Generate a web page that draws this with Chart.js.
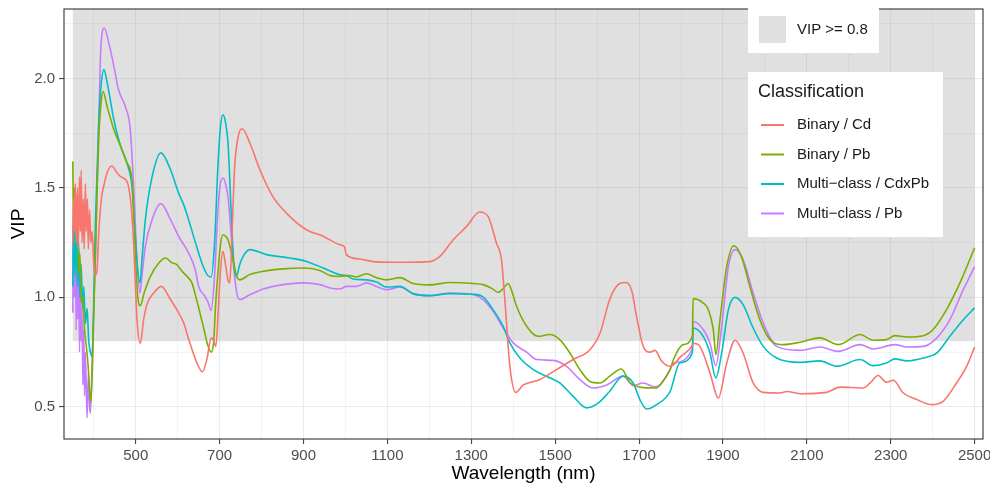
<!DOCTYPE html>
<html>
<head>
<meta charset="utf-8">
<script src="https://cdn.jsdelivr.net/npm/chart.js@4.4.1/dist/chart.umd.min.js"></script>
<style>
  html, body { margin: 0; padding: 0; background: #fff; }
  #wrap { width: 990px; height: 485px; position: relative; }
</style>
</head>
<body>
<div id="wrap"><canvas id="chart"></canvas></div>
<script>
// Binary / Cd
const cdWl = [350,352,354,356,358,361,363,366,368,370,372,375,377,380,382,385,387,390,393,396,400,404,408,412,418,424,432,443,455,465,479,488,495,503,511,519,527,543,561,583,602,615,626,646,659,670,680,686,691,697,702,708,714,720,724,728,732,736,745,754,772,796,827,867,907,947,987,998,1002,1034,1066,1106,1150,1201,1225,1257,1289,1320,1340,1360,1372,1380,1392,1406,1424,1463,1503,1543,1583,1607,1630,1650,1666,1682,1694,1710,1726,1738,1754,1774,1800,1827,1829,1845,1869,1889,1909,1929,1948,1972,1996,2036,2052,2084,2147,2179,2235,2251,2270,2290,2306,2330,2362,2398,2425,2457,2481,2500];
const cdVip = [1.24,1.45,1.30,1.52,1.25,1.50,1.22,1.55,1.30,1.58,1.25,1.45,1.22,1.52,1.30,1.45,1.22,1.40,1.25,1.30,1.15,1.10,1.13,1.30,1.45,1.51,1.57,1.60,1.57,1.55,1.53,1.44,1.25,0.90,0.79,0.90,0.97,1.02,1.05,0.99,0.93,0.88,0.81,0.70,0.66,0.72,0.815,0.80,0.776,0.95,1.12,1.21,1.15,1.08,1.066,1.20,1.42,1.60,1.74,1.77,1.705,1.583,1.46,1.37,1.309,1.279,1.24,1.23,1.195,1.175,1.163,1.16,1.16,1.163,1.187,1.263,1.324,1.39,1.37,1.248,1.172,0.99,0.685,0.566,0.60,0.624,0.67,0.716,0.761,0.837,0.99,1.058,1.068,1.035,0.913,0.776,0.75,0.758,0.708,0.685,0.73,0.78,0.79,0.776,0.655,0.54,0.70,0.804,0.746,0.609,0.566,0.563,0.57,0.56,0.566,0.59,0.586,0.609,0.643,0.612,0.621,0.563,0.533,0.51,0.525,0.609,0.685,0.773];

// Binary / Pb
const pbWl = [350,352,354,357,360,364,367,370,374,378,382,386,390,393,397,401,404,408,412,418,422,432,448,464,479,491,499,505,511,520,535,555,571,585,598,610,622,634,645,661,672,680,686,690,696,702,708,714,720,732,740,748,772,804,851,899,939,963,987,1010,1026,1050,1074,1098,1130,1161,1201,1249,1304,1328,1350,1364,1376,1388,1398,1408,1432,1459,1487,1511,1535,1559,1583,1607,1630,1658,1678,1702,1742,1750,1774,1782,1805,1827,1829,1853,1865,1877,1883,1893,1909,1926,1944,1964,1988,2012,2044,2084,2131,2175,2227,2258,2290,2310,2338,2378,2401,2433,2465,2500];
const pbVip = [1.62,1.30,1.50,1.35,1.45,1.11,1.20,0.98,1.00,0.85,0.78,0.70,0.58,0.52,0.70,1.00,1.20,1.50,1.735,1.90,1.94,1.87,1.766,1.69,1.614,1.537,1.20,1.00,0.962,1.02,1.096,1.157,1.18,1.16,1.149,1.12,1.096,1.066,0.99,0.868,0.78,0.75,0.80,0.95,1.11,1.24,1.286,1.28,1.263,1.172,1.10,1.08,1.104,1.119,1.13,1.134,1.123,1.10,1.096,1.10,1.093,1.108,1.09,1.08,1.09,1.063,1.057,1.068,1.063,1.058,1.04,1.023,1.04,1.063,1.02,0.959,0.868,0.822,0.83,0.807,0.746,0.67,0.616,0.609,0.64,0.673,0.612,0.59,0.586,0.60,0.67,0.716,0.784,0.822,0.994,0.974,0.944,0.853,0.738,0.898,1.14,1.236,1.187,1.05,0.898,0.807,0.784,0.795,0.815,0.784,0.83,0.804,0.807,0.825,0.819,0.825,0.853,0.944,1.066,1.226];

// Multi-class / CdxPb
const cdpbWl = [350,352,355,358,361,364,367,370,373,376,380,384,388,392,396,400,404,412,418,424,432,448,464,479,491,499,505,510,516,523,539,560,583,602,615,626,645,661,672,680,688,696,702,708,714,720,728,734,740,748,756,772,812,867,907,947,987,1002,1018,1050,1074,1098,1130,1161,1201,1249,1304,1328,1352,1376,1392,1416,1448,1479,1511,1543,1575,1603,1630,1662,1686,1702,1718,1742,1774,1797,1827,1829,1853,1869,1883,1897,1913,1929,1948,1972,1996,2028,2084,2131,2171,2227,2258,2290,2310,2338,2378,2410,2441,2473,2500];
const cdpbVip = [1.05,1.40,1.10,1.35,1.05,1.25,1.00,1.15,0.95,1.05,0.88,0.95,0.80,0.75,0.73,1.00,1.355,1.81,1.98,2.04,1.98,1.81,1.69,1.614,1.507,1.28,1.12,1.066,1.20,1.355,1.55,1.66,1.583,1.477,1.42,1.355,1.233,1.14,1.10,1.093,1.25,1.60,1.78,1.834,1.80,1.705,1.37,1.15,1.096,1.15,1.187,1.218,1.195,1.18,1.164,1.134,1.103,1.10,1.084,1.08,1.07,1.047,1.05,1.017,1.008,1.017,1.014,1.002,0.944,0.868,0.792,0.723,0.67,0.64,0.609,0.548,0.495,0.518,0.571,0.64,0.609,0.533,0.49,0.51,0.57,0.70,0.746,0.86,0.822,0.746,0.632,0.746,0.944,1.0,0.967,0.86,0.776,0.723,0.703,0.71,0.685,0.716,0.688,0.70,0.719,0.71,0.723,0.746,0.822,0.898,0.952];

// Multi-class / Pb
const mpbWl = [350,352,354,356,358,360,362,364,366,368,370,372,374,376,378,380,384,387,390,392,396,400,404,412,417,425,436,448,459,475,487,495,503,510,516,523,539,560,583,602,626,642,650,665,672,680,688,696,702,708,714,720,732,740,748,772,804,851,899,939,963,987,1002,1026,1050,1074,1098,1130,1161,1201,1249,1304,1328,1352,1376,1400,1432,1456,1495,1527,1559,1591,1623,1662,1686,1710,1738,1750,1774,1782,1827,1829,1853,1869,1883,1897,1913,1929,1948,1972,1996,2028,2084,2131,2175,2227,2258,2310,2338,2378,2410,2441,2473,2500];
const mpbVip = [0.93,1.47,1.00,1.40,0.85,1.30,0.90,1.20,0.75,1.05,0.80,0.95,0.60,0.85,0.55,0.75,0.45,0.65,0.50,0.47,0.70,0.95,1.20,1.81,2.146,2.23,2.16,2.055,1.948,1.872,1.766,1.507,1.17,1.02,1.12,1.233,1.355,1.428,1.355,1.28,1.203,1.126,1.05,1.005,0.98,0.94,1.10,1.40,1.52,1.545,1.52,1.46,1.17,1.03,0.99,1.012,1.038,1.058,1.066,1.058,1.043,1.038,1.05,1.05,1.066,1.05,1.035,1.047,1.017,1.008,1.02,1.013,0.99,0.936,0.86,0.792,0.75,0.716,0.712,0.685,0.624,0.586,0.60,0.64,0.597,0.609,0.591,0.60,0.67,0.70,0.764,0.89,0.853,0.792,0.688,0.868,1.14,1.218,1.172,1.02,0.883,0.776,0.758,0.773,0.753,0.784,0.764,0.784,0.773,0.776,0.815,0.898,1.035,1.14];

const seriesNames = ["Binary / Cd", "Binary / Pb", "Multi\u2212class / CdxPb", "Multi\u2212class / Pb"];
const seriesColors = ["#F8766D", "#7CAE00", "#00BFC4", "#C77CFF"];

const xMajor = [500, 700, 900, 1100, 1300, 1500, 1700, 1900, 2100, 2300, 2500];
const xMinor = [400, 600, 800, 1000, 1200, 1400, 1600, 1800, 2000, 2200, 2400];
const yMajor = [0.5, 1.0, 1.5, 2.0];
const yMinor = [0.75, 1.25, 1.75, 2.25];

const vipThreshold = 0.8;
const shadeLabel = "VIP >= 0.8";

const toPoints = (wl, vip) => wl.map((w, i) => ({ x: w, y: vip[i] }));
const seriesData = [
  toPoints(cdWl, cdVip),
  toPoints(pbWl, pbVip),
  toPoints(cdpbWl, cdpbVip),
  toPoints(mpbWl, mpbVip),
];

const shadeFill = "rgba(127,127,127,0.24)";
const FONT = "'Liberation Sans', Arial, sans-serif";

// grey band, panel border and the two legend boxes
const panelDeco = {
  id: "panelDeco",
  beforeDatasetsDraw(chart) {
    const { ctx, chartArea, scales } = chart;
    const left = scales.x.getPixelForValue(cdWl[0]);
    const right = scales.x.getPixelForValue(cdWl[cdWl.length - 1]);
    const bottom = scales.y.getPixelForValue(vipThreshold);
    ctx.save();
    ctx.fillStyle = shadeFill;
    ctx.fillRect(left, chartArea.top, right - left, bottom - chartArea.top);
    ctx.restore();
  },
  afterDatasetsDraw(chart) {
    const { ctx, chartArea } = chart;
    ctx.save();
    ctx.strokeStyle = "#444";
    ctx.lineWidth = 1.2;
    ctx.strokeRect(chartArea.left, chartArea.top, chartArea.right - chartArea.left, chartArea.bottom - chartArea.top);
    ctx.restore();
  },
  afterDraw(chart) {
    const { ctx } = chart;
    ctx.save();
    ctx.textBaseline = "middle";
    ctx.textAlign = "left";

    // fill legend
    ctx.fillStyle = "#fff";
    ctx.fillRect(748, 4, 131, 49);
    ctx.fillStyle = shadeFill;
    ctx.fillRect(759, 16, 27, 27);
    ctx.fillStyle = "#1a1a1a";
    ctx.font = "15px " + FONT;
    ctx.fillText(shadeLabel, 797, 30);

    // colour legend
    ctx.fillStyle = "#fff";
    ctx.fillRect(748, 72, 195, 165);
    ctx.fillStyle = "#1a1a1a";
    ctx.font = "18px " + FONT;
    ctx.fillText("Classification", 758, 92);
    ctx.font = "15px " + FONT;
    const rows = [125, 154.5, 184, 213.5];
    seriesNames.forEach((name, i) => {
      ctx.strokeStyle = seriesColors[i];
      ctx.lineWidth = 2;
      ctx.beginPath();
      ctx.moveTo(761, rows[i]);
      ctx.lineTo(784, rows[i]);
      ctx.stroke();
      ctx.fillStyle = "#1a1a1a";
      ctx.fillText(name, 797, rows[i]);
    });
    ctx.restore();
  },
};

const isMajor = (list, v) => list.some((m) => Math.abs(m - v) < 1e-9);

new Chart(document.getElementById("chart"), {
  type: "line",
  data: {
    datasets: seriesData.map((pts, i) => ({
      label: seriesNames[i],
      data: pts,
      borderColor: seriesColors[i],
      borderWidth: 1.6,
      pointRadius: 0,
      fill: false,
      cubicInterpolationMode: "monotone",
    })),
  },
  options: {
    responsive: true,
    maintainAspectRatio: false,
    animation: false,
    layout: { padding: { top: 9, right: 7, left: 0, bottom: 0 } },
    plugins: {
      legend: { display: false },
      tooltip: { enabled: false },
    },
    scales: {
      x: {
        type: "linear",
        min: 329,
        max: 2520,
        afterBuildTicks: (s) => {
          s.ticks = [...xMinor, ...xMajor].sort((a, b) => a - b).map((v) => ({ value: v }));
        },
        afterFit: (s) => {
          s.height = 46;
          s.paddingLeft = 0;
          s.paddingRight = 0;
        },
        ticks: {
          autoSkip: false,
          maxRotation: 0,
          padding: 3,
          color: "#4D4D4D",
          font: { size: 15, family: FONT },
          callback: (v) => (isMajor(xMajor, v) ? String(v) : ""),
        },
        grid: {
          color: "#EBEBEB",
          lineWidth: (c) => (isMajor(xMajor, c.tick.value) ? 1.1 : 0.6),
          tickLength: 5,
          tickColor: (c) => (isMajor(xMajor, c.tick.value) ? "#444" : "rgba(0,0,0,0)"),
          tickWidth: 1.1,
        },
        border: { display: false },
        title: {
          display: true,
          text: "Wavelength (nm)",
          color: "#000",
          font: { size: 19, family: FONT },
          padding: { top: 0, bottom: 0 },
        },
      },
      y: {
        type: "linear",
        min: 0.353,
        max: 2.317,
        afterBuildTicks: (s) => {
          s.ticks = [...yMajor, ...yMinor].sort((a, b) => a - b).map((v) => ({ value: v }));
        },
        afterFit: (s) => {
          s.width = 64;
          s.paddingTop = 0;
          s.paddingBottom = 0;
        },
        ticks: {
          autoSkip: false,
          padding: 4,
          color: "#4D4D4D",
          font: { size: 15, family: FONT },
          callback: (v) => (isMajor(yMajor, v) ? v.toFixed(1) : ""),
        },
        grid: {
          color: "#EBEBEB",
          lineWidth: (c) => (isMajor(yMajor, c.tick.value) ? 1.1 : 0.6),
          tickLength: 5,
          tickColor: (c) => (isMajor(yMajor, c.tick.value) ? "#444" : "rgba(0,0,0,0)"),
          tickWidth: 1.1,
        },
        border: { display: false },
        title: {
          display: true,
          text: "VIP",
          color: "#000",
          font: { size: 19, family: FONT },
          padding: { top: 7, bottom: 0 },
        },
      },
    },
  },
  plugins: [panelDeco],
});
</script>
</body>
</html>
